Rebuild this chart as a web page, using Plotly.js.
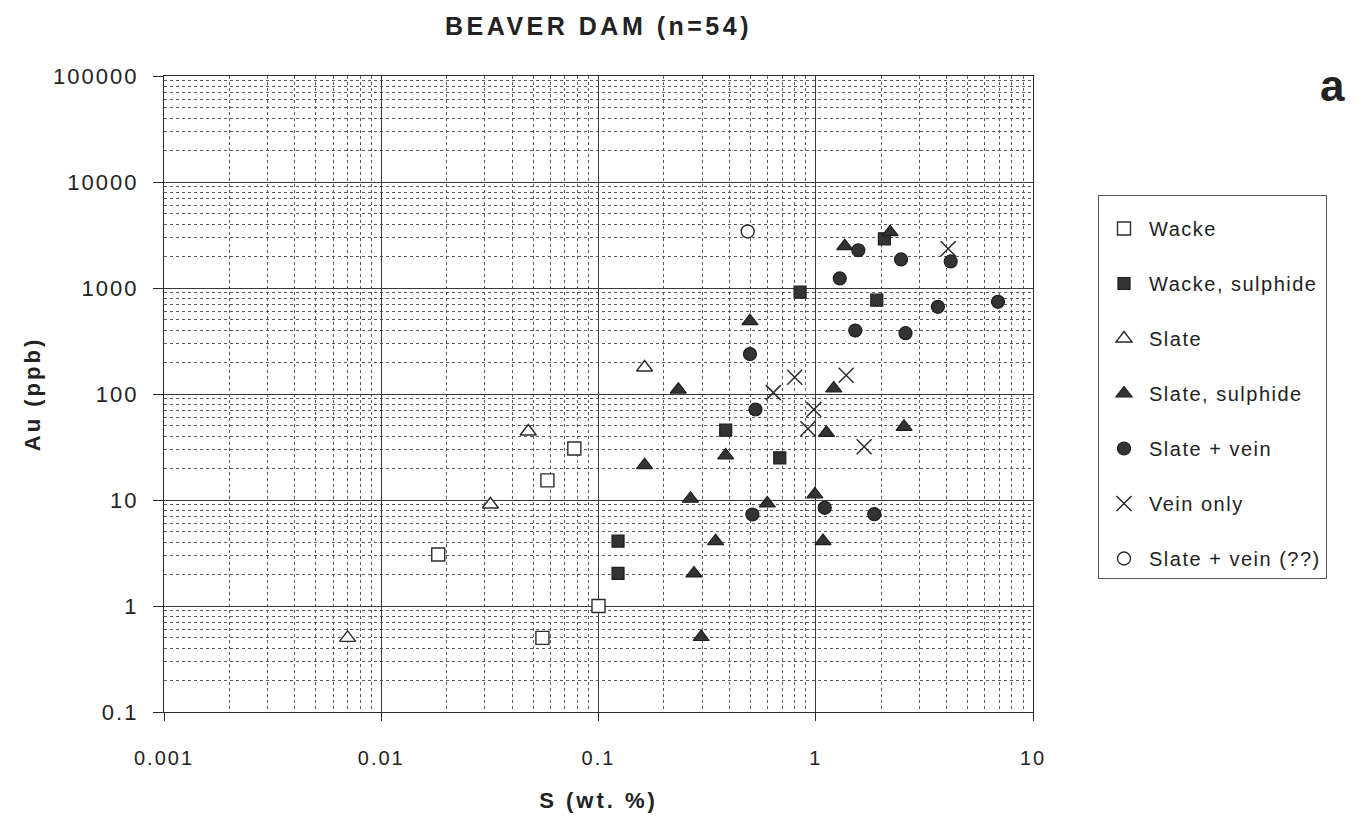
<!DOCTYPE html>
<html>
<head>
<meta charset="utf-8">
<script src="https://cdn.plot.ly/plotly-3.0.1.min.js"></script>
<style>
  html, body { margin: 0; padding: 0; background: #fff; }
  #chart { width: 1366px; height: 820px; }
  .legendtext { letter-spacing: 1.5px; }
  svg .xaxislayer-above text { letter-spacing: 2px; }
  svg .yaxislayer-above text { letter-spacing: 2px; }
  .gtitle { letter-spacing: 3.5px; }
  .xtitle, .ytitle { letter-spacing: 3px; }
</style>
</head>
<body>
<div id="chart"></div>
<script>
// ---- Data ----
const wackeS  = [0.0774, 0.0582, 0.0183, 0.1, 0.0552];
const wackeAu = [30.6, 15.3, 3.06, 1.0, 0.5];

const wackeSulphS  = [2.07, 0.847, 1.91, 0.385, 0.683, 0.123, 0.123];
const wackeSulphAu = [2910, 913, 767, 45.6, 25.0, 4.09, 2.03];

const slateS  = [0.0475, 0.0318, 0.007, 0.163];
const slateAu = [44.3, 9.07, 0.50, 178];

const slateSulphS  = [1.36, 2.20, 0.498, 0.233, 1.21, 1.12, 2.55, 0.385, 0.163, 0.99, 0.265, 0.598, 0.346, 1.08, 0.275, 0.297];
const slateSulphAu = [2480, 3360, 486, 110, 113, 43.0, 49.0, 26.3, 21.3, 11.3, 10.3, 9.27, 4.09, 4.1, 2.03, 0.51];

const slateVeinS  = [1.57, 2.47, 4.18, 1.29, 3.65, 6.90, 1.52, 2.59, 0.498, 0.528, 0.511, 1.10, 1.86];
const slateVeinAu = [2270, 1860, 1780, 1230, 665, 741, 397, 375, 238, 71.4, 7.30, 8.44, 7.35];

const veinOnlyS  = [4.07, 0.80, 1.38, 0.638, 0.98, 0.92, 1.67];
const veinOnlyAu = [2350, 144, 150, 103, 71.4, 47.0, 31.8];

const slateVeinQS  = [0.486];
const slateVeinQAu = [3415];

const seriesNames = ["Wacke", "Wacke, sulphide", "Slate", "Slate, sulphide", "Slate + vein", "Vein only", "Slate + vein (??)"];

const xTickVals = [0.001, 0.01, 0.1, 1, 10];
const xTickText = ["0.001", "0.01", "0.1", "1", "10"];
const yTickVals = [0.1, 1, 10, 100, 1000, 10000, 100000];
const yTickText = ["0.1", "1", "10", "100", "1000", "10000", "100000"];

// ---- Styles ----
const ink = "#2b2b2b";
const FONT = "Liberation Sans, Arial, Helvetica, sans-serif";

function tr(x, y, name, i, marker) {
  return {
    type: "scatter", mode: "markers", x: x, y: y, name: name,
    legendgroup: "g" + i, marker: marker, hoverinfo: "x+y+name"
  };
}

const traces = [
  tr(wackeS, wackeAu, seriesNames[0], 0, {symbol: "square", size: 13, color: "#ffffff", line: {color: ink, width: 1.4}}),
  tr(wackeSulphS, wackeSulphAu, seriesNames[1], 1, {symbol: "square", size: 12, color: "#333333", line: {color: "#1e1e1e", width: 1.2}}),
  tr(slateS, slateAu, seriesNames[2], 2, {symbol: "triangle-up", size: 14, color: "#ffffff", line: {color: ink, width: 1.4}}),
  tr(slateSulphS, slateSulphAu, seriesNames[3], 3, {symbol: "triangle-up", size: 14, color: "#333333", line: {color: "#1e1e1e", width: 1.2}}),
  tr(slateVeinS, slateVeinAu, seriesNames[4], 4, {symbol: "circle", size: 13, color: "#333333", line: {color: "#1e1e1e", width: 1.2}}),
  tr(veinOnlyS, veinOnlyAu, seriesNames[5], 5, {symbol: "x-thin-open", size: 15, color: ink, line: {color: ink, width: 1.5}}),
  tr(slateVeinQS, slateVeinQAu, seriesNames[6], 6, {symbol: "circle", size: 13, color: "#ffffff", line: {color: ink, width: 1.4}})
];

const axisCommon = {
  type: "log",
  tickmode: "array",
  showgrid: true, gridcolor: "#3a3a3a", gridwidth: 1.2,
  showline: true, linecolor: "#2a2a2a", linewidth: 1.4, mirror: true,
  ticks: "outside", tickcolor: "#2a2a2a", tickwidth: 1.4,
  zeroline: false,
  tickfont: {family: FONT, size: 20, color: "#222"},
  minor: {dtick: "D1", showgrid: true, griddash: "dot", gridcolor: "#5a5a5a", gridwidth: 1, ticks: ""}
};

const layout = {
  width: 1366, height: 820,
  paper_bgcolor: "#ffffff", plot_bgcolor: "#ffffff",
  margin: {l: 164, r: 333, t: 76, b: 108},
  font: {family: FONT, color: "#222"},
  showlegend: true,
  title: {
    text: "BEAVER DAM (n=54)",
    font: {family: FONT, size: 25, weight: "bold", color: "#222"},
    xref: "paper", x: 0.5, xanchor: "center",
    yref: "container", y: 1 - 26 / 820, yanchor: "middle"
  },
  xaxis: Object.assign({}, axisCommon, {
    range: [-3, 1],
    tickvals: xTickVals, ticktext: xTickText,
    ticklen: 8, ticklabelstandoff: 20,
    title: {text: "S (wt. %)", font: {family: FONT, size: 22, weight: "bold", color: "#222"}, standoff: 24}
  }),
  yaxis: Object.assign({}, axisCommon, {
    range: [-1, 5],
    tickvals: yTickVals, ticktext: yTickText,
    tickfont: {family: FONT, size: 22, color: "#222"},
    ticklen: 10, ticklabelstandoff: 10,
    title: {text: "Au (ppb)", font: {family: FONT, size: 22, weight: "bold", color: "#222"}, standoff: 18}
  }),
  legend: {
    x: (1098 - 164) / 869, xanchor: "left",
    y: (712 - 195) / 636, yanchor: "top",
    bordercolor: "#555", borderwidth: 1, bgcolor: "#fff",
    font: {family: FONT, size: 20, color: "#222"},
    title: {text: "\u00a0", font: {family: FONT, size: 10}},
    tracegroupgap: 26, traceorder: "grouped",
    itemwidth: 40
  },
  annotations: [{
    text: "a", xref: "paper", yref: "paper",
    x: (1332 - 164) / 869, y: (712 - 85) / 636,
    xanchor: "center", yanchor: "middle", showarrow: false,
    font: {family: FONT, size: 44, weight: "bold", color: "#222"}
  }]
};

Plotly.newPlot("chart", traces, layout, {displayModeBar: false, staticPlot: false});
</script>
</body>
</html>
